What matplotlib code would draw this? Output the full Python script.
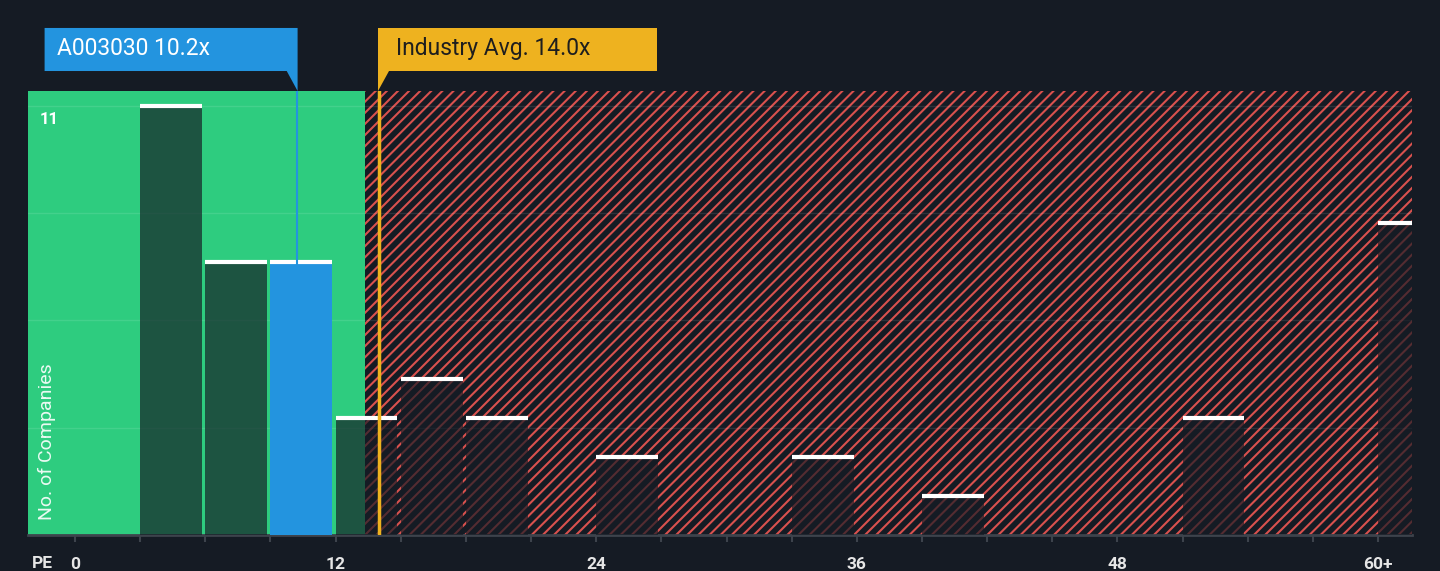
import matplotlib
matplotlib.use('Agg')
import matplotlib.pyplot as plt
from matplotlib.patches import Polygon, Rectangle
from matplotlib.transforms import blended_transform_factory

# data
bin_left = [3, 6, 9, 12, 15, 18, 24, 33, 39, 51, 60]
counts = [11, 7, 7, 3, 4, 3, 2, 2, 1, 3, 8]
bin_width = 3
company_name = 'A003030'
company_pe = 10.2
industry_pe = 14.0
fair_limit = 13.35
tick_values = [0, 12, 24, 36, 48, 60]
tick_labels = ['0', '12', '24', '36', '48', '60+']
grid_values = [2.75, 5.5, 8.25, 11]

bg = '#151b24'
green = '#2ecc7f'
blue = '#2394df'
yellow = '#eeb21f'
red = '#d9514e'

plt.rcParams['font.family'] = ['Roboto', 'DejaVu Sans']
plt.rcParams['hatch.linewidth'] = 1.5
plt.rcParams['hatch.color'] = red

fig = plt.figure(figsize=(14.4, 5.71), dpi=100)
fig.set_facecolor(bg)
ax = fig.add_axes([28 / 1440, 36 / 571, 1384 / 1440, 444 / 571])
ax.set_facecolor(bg)
xmin, xmax = -2.164, 61.565
ax.set_xlim(xmin, xmax)
ax.set_ylim(0, 11.38)

# regions
ax.add_patch(Rectangle((xmin, 0), fair_limit - xmin, 11.38, facecolor=green, lw=0, zorder=1))
ax.add_patch(Rectangle((fair_limit, 0), xmax - fair_limit, 11.38, facecolor=bg,
                       edgecolor=red, hatch='///', lw=0, zorder=1))

for g in grid_values:
    ax.axhline(g, color='white', alpha=0.1, lw=1, zorder=2)

# bars
bw = bin_width - 0.15
for left, c in zip(bin_left, counts):
    if left <= company_pe < left + bin_width:
        ax.bar(left, c, width=bw, align='edge', color=blue, lw=0, zorder=3)
    else:
        ax.bar(left, c, width=bw, align='edge', color=bg, alpha=0.68, lw=0, zorder=3)
    ax.hlines(c, left, left + bw, color='white', lw=3, zorder=4)

# marker lines
ax.axvline(company_pe, color=blue, lw=1.5, zorder=5)
ax.axvline(industry_pe, color=yellow, lw=2.5, zorder=5)

# axis styling
for s in ['top', 'right', 'left']:
    ax.spines[s].set_visible(False)
ax.spines['bottom'].set_color('#3d434c')
ax.spines['bottom'].set_linewidth(2)
ax.set_yticks([])
ax.set_xticks(tick_values)
ax.set_xticklabels(tick_labels, fontsize=12.5, fontweight='bold', color='#e6e6e6')
ax.set_xticks(range(0, 63, 3), minor=True)
ax.tick_params(axis='x', which='both', length=5, width=1.5, color='#3d434c', pad=11)

ax.text(-1.29, 0.38, 'No. of Companies', rotation=90, ha='center', va='bottom',
        fontsize=14, color='white', alpha=0.9, zorder=6)
ax.text(-1.62, 10.64, '11', ha='left', va='center', fontsize=12, fontweight='bold',
        color='white', zorder=6)
fig.text(42 / 1440, 8 / 571, 'PE', ha='center', va='center', fontsize=12.5,
         fontweight='bold', color='#e6e6e6')

# callouts
tr = blended_transform_factory(ax.transData, ax.transAxes)
b_left = company_pe - 11.6
ax.add_patch(Polygon([(b_left, 1.045), (b_left, 1.142), (company_pe + 0.05, 1.142),
                      (company_pe + 0.05, 1.0), (company_pe - 0.45, 1.045)],
                     closed=True, facecolor=blue, lw=0, transform=tr, clip_on=False))
ax.text(b_left + 0.55, 1.0946, f'{company_name} {company_pe:.1f}x', transform=tr,
        ha='left', va='center', fontsize=16.5, color='white')

y_right = industry_pe + 12.8
ax.add_patch(Polygon([(industry_pe - 0.05, 1.0), (industry_pe - 0.05, 1.142), (y_right, 1.142),
                      (y_right, 1.045), (industry_pe + 0.45, 1.045)],
                     closed=True, facecolor=yellow, lw=0, transform=tr, clip_on=False))
ax.text(industry_pe + 0.78, 1.0946, f'Industry Avg. {industry_pe:.1f}x', transform=tr,
        ha='left', va='center', fontsize=16.5, color='#1e1e1e')

fig.savefig('out.png', dpi=100, facecolor=bg)
